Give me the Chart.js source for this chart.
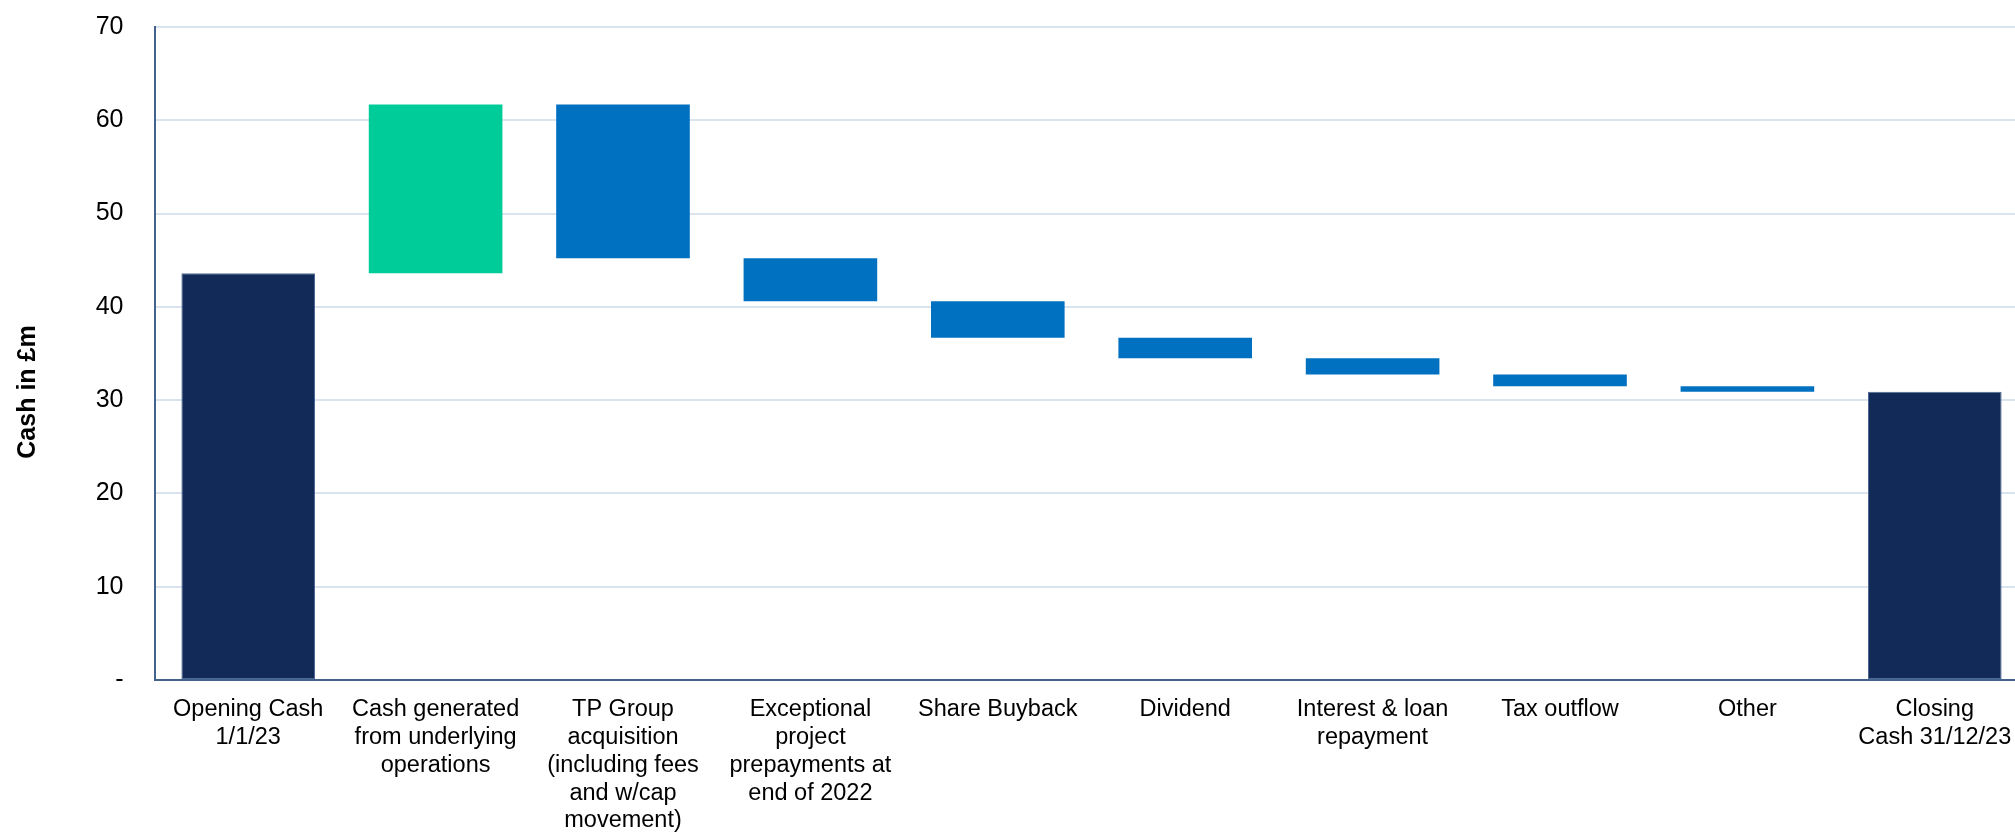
<!DOCTYPE html>
<html>
<head>
<meta charset="utf-8">
<title>Cash bridge 2023</title>
<script src="https://cdn.jsdelivr.net/npm/chart.js@4/dist/chart.umd.min.js"></script>
<style>
  html, body { margin: 0; padding: 0; background: #ffffff; overflow: hidden; }
  #wrap { position: relative; width: 2032px; height: 832px; }
</style>
</head>
<body>
<div id="wrap"><canvas id="bridge"></canvas></div>
<script>
// Waterfall steps, £m
const categories = [
  ['Opening Cash', '1/1/23'],
  ['Cash generated', 'from underlying', 'operations'],
  ['TP Group', 'acquisition', '(including fees', 'and w/cap', 'movement)'],
  ['Exceptional', 'project', 'prepayments at', 'end of 2022'],
  'Share Buyback',
  'Dividend',
  ['Interest & loan', 'repayment'],
  'Tax outflow',
  'Other',
  ['Closing', 'Cash 31/12/23']
];
const openingCash = 43.6;
const movements = [18.1, -16.5, -4.6, -3.9, -2.2, -1.75, -1.25, -0.6];
const closingCash = 30.9;
const yTickValues = [0, 10, 20, 30, 40, 50, 60, 70];
const zeroTickLabel = '-';
const yAxisTitle = 'Cash in £m';

const NAVY = '#112a58';
const GREEN = '#00cc99';
const BLUE = '#0070c0';

// Floating [low, high] ranges: totals start at zero, movements hang off the running total
const ranges = [[0, openingCash]];
const colours = [NAVY];
const borders = [1];
let running = openingCash;
movements.forEach(m => {
  const next = running + m;
  ranges.push([Math.min(running, next), Math.max(running, next)]);
  colours.push(m >= 0 ? GREEN : BLUE);
  borders.push(0);
  running = next;
});
ranges.push([0, closingCash]);
colours.push(NAVY);
borders.push(1);

const FAMILY = '"Liberation Sans", Arial, sans-serif';
const tickFont = { family: FAMILY, size: 25 };
const labelFont = { family: FAMILY, size: 23.5, lineHeight: 1.18 };

// Fixed axis bands so the plot box sits where the layout wants it
const Y_AXIS_WIDTH = 146.5;
const X_AXIS_HEIGHT = 152;

// Rotated y-axis caption, set a little below the plot's middle
const axisCaption = {
  id: 'axisCaption',
  afterDraw(chart) {
    const { ctx } = chart;
    ctx.save();
    ctx.translate(28, 392);
    ctx.rotate(-Math.PI / 2);
    ctx.font = 'bold 25px ' + FAMILY;
    ctx.fillStyle = '#000000';
    ctx.textAlign = 'center';
    ctx.textBaseline = 'middle';
    ctx.fillText(yAxisTitle, 0, 0);
    ctx.restore();
  }
};

new Chart(document.getElementById('bridge'), {
  type: 'bar',
  data: {
    labels: categories,
    datasets: [{
      data: ranges,
      backgroundColor: colours,
      borderColor: '#4d6a94',
      borderWidth: borders,
      borderSkipped: false,
      categoryPercentage: 1,
      barPercentage: 0.713
    }]
  },
  plugins: [axisCaption],
  options: {
    responsive: true,
    maintainAspectRatio: false,
    animation: false,
    layout: { padding: { left: 8, top: 27, right: 3.5, bottom: 0 } },
    plugins: { legend: { display: false }, tooltip: { enabled: false } },
    scales: {
      x: {
        grid: { display: false, drawTicks: false },
        border: { display: true, color: '#44638c', width: 2 },
        ticks: {
          color: '#000000',
          font: labelFont,
          padding: 16,
          autoSkip: false,
          maxRotation: 0,
          minRotation: 0
        },
        afterFit: scale => {
          scale.height = X_AXIS_HEIGHT;
          scale.paddingLeft = 0;
          scale.paddingRight = 0;
        }
      },
      y: {
        min: 0,
        max: 70,
        afterBuildTicks: scale => { scale.ticks = yTickValues.map(v => ({ value: v })); },
        grid: { color: '#dae4ef', lineWidth: 2, drawTicks: false },
        border: { display: true, color: '#44638c', width: 2 },
        ticks: {
          color: '#000000',
          font: tickFont,
          padding: 31,
          callback: v => (v === 0 ? zeroTickLabel : String(v))
        },
        title: { display: false },
        afterFit: scale => {
          scale.width = Y_AXIS_WIDTH;
          scale.paddingTop = 0;
          scale.paddingBottom = 0;
        }
      }
    }
  }
});
</script>
</body>
</html>
